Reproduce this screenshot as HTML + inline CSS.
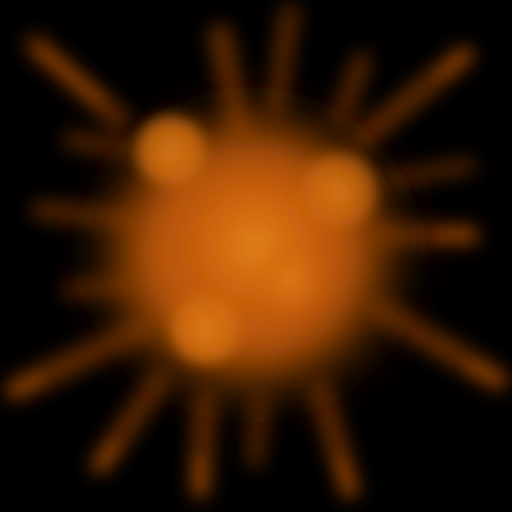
<!DOCTYPE html>
<html><head><meta charset="utf-8"><style>
html,body{margin:0;padding:0;background:#000;width:512px;height:512px;overflow:hidden}
svg{display:block}
</style></head><body>
<svg width="512" height="512" viewBox="0 0 512 512">
<defs>
<filter id="b10" x="-50%" y="-50%" width="200%" height="200%"><feGaussianBlur stdDeviation="10"/></filter>
<filter id="b6" x="-50%" y="-50%" width="200%" height="200%"><feGaussianBlur stdDeviation="7"/></filter>
<filter id="b25" x="-50%" y="-50%" width="200%" height="200%"><feGaussianBlur stdDeviation="28"/></filter>
<radialGradient id="core" cx="50%" cy="50%" r="50%">
<stop offset="0" stop-color="#e0760f"/><stop offset="0.5" stop-color="#b05006"/><stop offset="1" stop-color="#000" stop-opacity="0"/>
</radialGradient>
<radialGradient id="spot" cx="50%" cy="50%" r="50%">
<stop offset="0" stop-color="#e8861c"/><stop offset="0.6" stop-color="#d0680d"/><stop offset="1" stop-color="#d0680d" stop-opacity="0"/>
</radialGradient>
</defs>
<rect width="512" height="512" fill="#000"/>
<g stroke="#8c3e05" stroke-linecap="round" fill="none" filter="url(#b10)" opacity="0.75">
<line x1="120" y1="120" x2="35" y2="45" stroke-width="20"/>
<line x1="240" y1="130" x2="220" y2="35" stroke-width="22"/>
<line x1="275" y1="110" x2="290" y2="12" stroke-width="16"/>
<line x1="360" y1="140" x2="465" y2="55" stroke-width="20"/>
<line x1="340" y1="120" x2="362" y2="60" stroke-width="16"/>
<line x1="380" y1="235" x2="470" y2="235" stroke-width="20"/>
<line x1="390" y1="180" x2="470" y2="165" stroke-width="12"/>
<line x1="380" y1="310" x2="498" y2="380" stroke-width="22"/>
<line x1="320" y1="390" x2="350" y2="490" stroke-width="20"/>
<line x1="205" y1="400" x2="200" y2="490" stroke-width="20"/>
<line x1="160" y1="380" x2="100" y2="465" stroke-width="20"/>
<line x1="140" y1="330" x2="15" y2="390" stroke-width="22"/>
<line x1="130" y1="220" x2="40" y2="210" stroke-width="16"/>
<line x1="130" y1="150" x2="70" y2="140" stroke-width="14"/>
<line x1="130" y1="285" x2="70" y2="290" stroke-width="14"/>
<line x1="260" y1="400" x2="255" y2="460" stroke-width="14"/>
</g>
<g stroke="#b0520a" stroke-linecap="round" fill="none" filter="url(#b6)" opacity="0.55">
<line x1="100" y1="100" x2="40" y2="50" stroke-width="8"/>
<line x1="440" y1="75" x2="465" y2="55" stroke-width="8"/>
<line x1="440" y1="235" x2="470" y2="235" stroke-width="8"/>
<line x1="470" y1="365" x2="498" y2="380" stroke-width="8"/>
<line x1="40" y1="378" x2="15" y2="390" stroke-width="8"/>
<line x1="340" y1="460" x2="350" y2="490" stroke-width="8"/>
<line x1="200" y1="460" x2="200" y2="490" stroke-width="8"/>
<line x1="115" y1="445" x2="100" y2="465" stroke-width="8"/>
</g>
<g>
<ellipse cx="250" cy="255" rx="180" ry="170" fill="url(#core)" filter="url(#b25)"/>
<ellipse cx="250" cy="250" rx="115" ry="110" fill="#c25a08" filter="url(#b25)" opacity="0.9"/>
</g>
<g filter="url(#b6)">
<circle cx="170" cy="150" r="38" fill="url(#spot)" opacity="0.85"/>
<circle cx="170" cy="150" r="30" fill="none" stroke="#e07c14" stroke-width="10" opacity="0.45"/>
<circle cx="340" cy="190" r="40" fill="url(#spot)" opacity="0.75"/>
<circle cx="340" cy="190" r="32" fill="none" stroke="#d0700f" stroke-width="10" opacity="0.4"/>
<circle cx="255" cy="245" r="70" fill="url(#spot)" opacity="0.85"/>
<circle cx="205" cy="330" r="36" fill="url(#spot)" opacity="0.85"/>
<circle cx="205" cy="330" r="28" fill="none" stroke="#e07c14" stroke-width="10" opacity="0.45"/>
<circle cx="290" cy="280" r="38" fill="url(#spot)" opacity="0.65"/>
</g>
</svg>
</body></html>
